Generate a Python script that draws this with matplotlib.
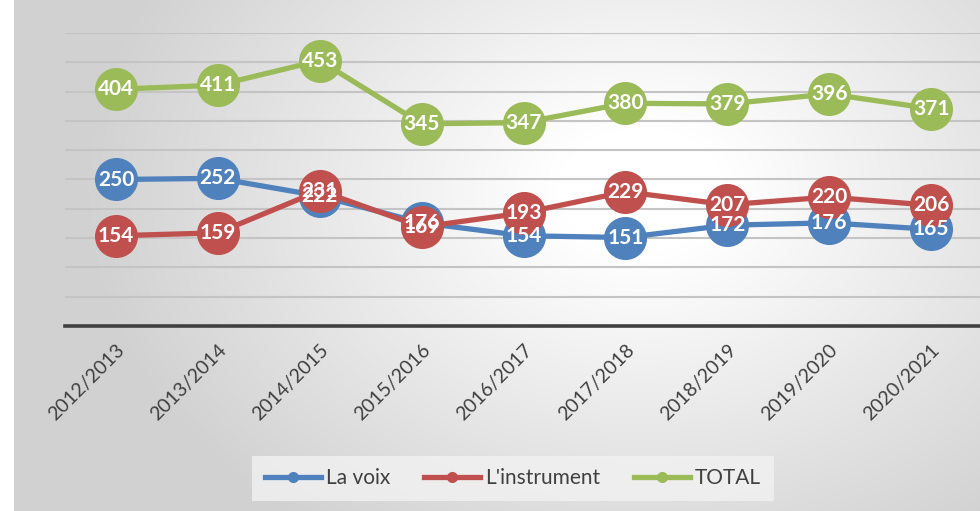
import numpy as np
import matplotlib
matplotlib.use("Agg")
import matplotlib.pyplot as plt
from matplotlib.lines import Line2D

years = ["2012/2013", "2013/2014", "2014/2015", "2015/2016", "2016/2017",
         "2017/2018", "2018/2019", "2019/2020", "2020/2021"]
la_voix = [250, 252, 222, 176, 154, 151, 172, 176, 165]
instrument = [154, 159, 231, 169, 193, 229, 207, 220, 206]
total = [404, 411, 453, 345, 347, 380, 379, 396, 371]
series_names = ["La voix", "L'instrument", "TOTAL"]
colors = ["#4f81bd", "#c0504d", "#9bbb59"]

plt.rcParams['font.family'] = ['Lato', 'DejaVu Sans']

W, H = 980, 511
fig = plt.figure(figsize=(W / 100, H / 100), dpi=100)
fig.patch.set_facecolor("white")

# radial gradient background
bg = fig.add_axes([14 / W, 0, 1 - 14 / W, 1])
bg.set_axis_off()
yy, xx = np.mgrid[0:H, 14:W]
cx, cy = 640, 190
d = np.sqrt(((xx - cx) / 560.0) ** 2 + ((yy - cy) / 420.0) ** 2)
t = np.clip((d - 0.15) / 0.85, 0, 1)
val = 1.0 - 0.18 * t
img = np.dstack([val, val, val])
bg.imshow(img, aspect="auto", extent=[0, 1, 0, 1], interpolation="bilinear")
bg.set_xlim(0, 1)
bg.set_ylim(0, 1)

ax = fig.add_axes([65 / W, (H - 326) / H, 917 / W, (326 - 33) / H])
ax.patch.set_alpha(0)
x = np.arange(len(years))
ax.set_xlim(-0.5, len(years) - 0.5)
ax.set_ylim(0, 500)
ax.set_yticks(np.arange(50, 501, 50))
ax.yaxis.grid(True, color="#c4c4c4", linewidth=1.5)
ax.set_axisbelow(True)
ax.tick_params(axis="y", left=False, labelleft=False)
for s in ["top", "right", "left"]:
    ax.spines[s].set_visible(False)
ax.spines["bottom"].set_color("#404040")
ax.spines["bottom"].set_linewidth(2.6)

ax.set_xticks(x)
ax.set_xticklabels(years, rotation=45, ha="right", rotation_mode="anchor",
                   fontsize=14, color="#404040")
ax.tick_params(axis="x", length=0, pad=11)

data = [la_voix, instrument, total]
for vals, c in zip(data, colors):
    ax.plot(x, vals, color=c, lw=3.8, marker="o", markersize=31,
            markeredgewidth=0, solid_capstyle="round", clip_on=False, zorder=3)
for vals in data:
    for xi, v in zip(x, vals):
        ax.text(xi, v, str(v), ha="center", va="center", color="white",
                fontsize=15, fontweight="bold", zorder=5)

handles = [Line2D([0], [0], color=c, lw=3.8, marker="o", markersize=7)
           for c in colors]
leg = fig.legend(handles, series_names, loc="center",
                 bbox_to_anchor=(513 / W, 1 - 478 / H), ncol=3, fontsize=15,
                 frameon=True, fancybox=False, handlelength=2.7,
                 handletextpad=0.25, columnspacing=1.6, borderpad=0.6,
                 borderaxespad=0)
leg.get_frame().set_facecolor("#f2f2f2")
leg.get_frame().set_edgecolor("none")
leg.get_frame().set_alpha(0.8)
for txt in leg.get_texts():
    txt.set_color("#404040")

fig.savefig("out.png", dpi=100)
